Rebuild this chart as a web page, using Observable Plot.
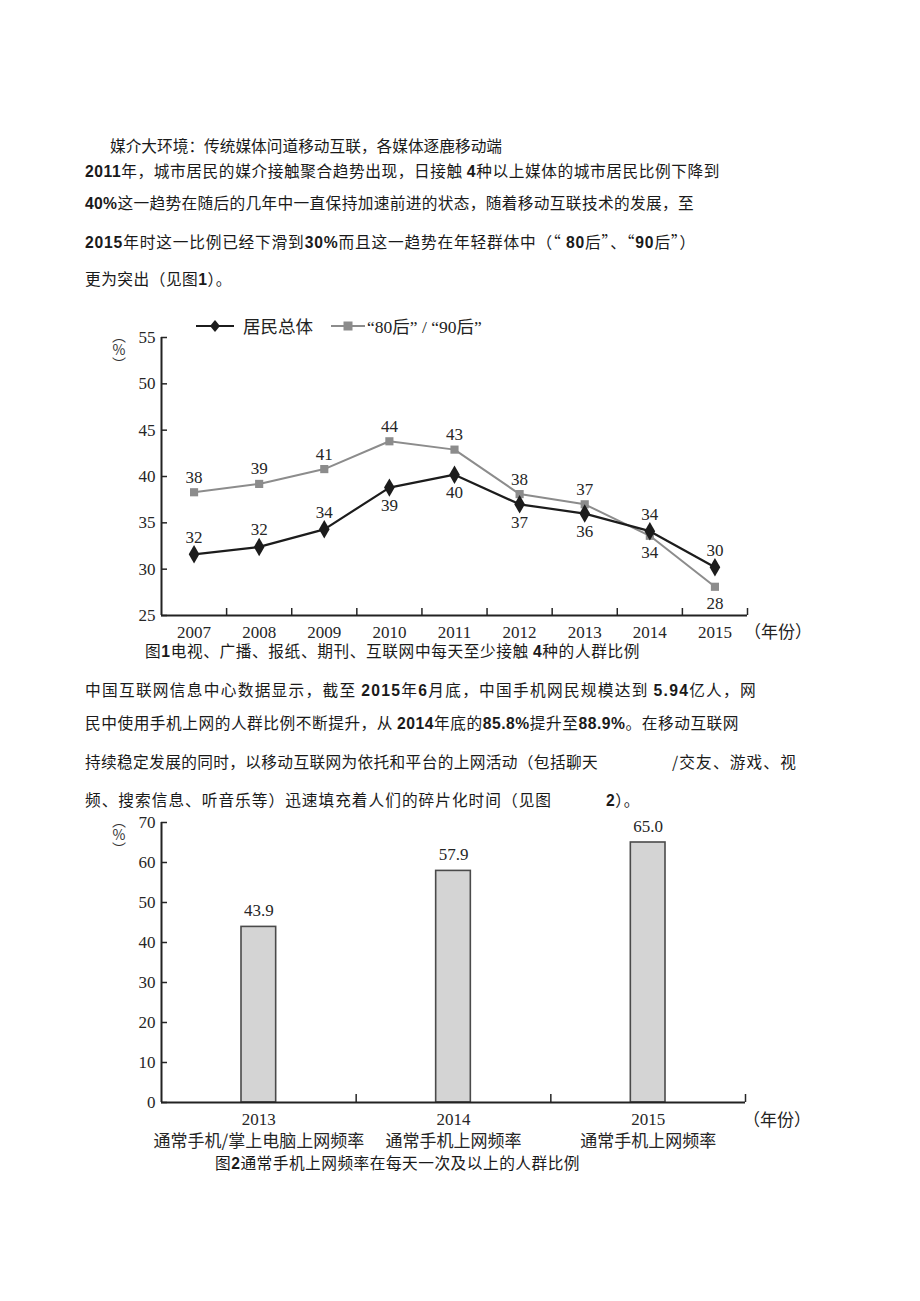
<!DOCTYPE html>
<html><head><meta charset="utf-8">
<script src="https://cdn.jsdelivr.net/npm/d3@7"></script>
<script src="https://cdn.jsdelivr.net/npm/@observablehq/plot@0.6"></script>
<style>
html,body{margin:0;padding:0;background:#fff;}
body{width:920px;height:1301px;position:relative;overflow:hidden;font-family:"Noto Sans CJK SC","Noto Sans",sans-serif;color:#1a1a1a;}
.t{position:absolute;font-size:15.7px;line-height:16px;white-space:pre;}
.t .a{font-family:"Liberation Sans Narrow","Liberation Sans",sans-serif;font-weight:bold;}
.q{font-feature-settings:"fwid" 1;}
.unit{position:absolute;font-size:17px;line-height:17px;white-space:pre;font-family:"Liberation Serif","Noto Sans CJK SC",serif;color:#222;}
.ylab{position:absolute;font-size:14px;line-height:20px;writing-mode:vertical-rl;text-orientation:upright;letter-spacing:0px;font-family:"Noto Sans CJK SC",serif;color:#333;}
.legend{position:absolute;display:flex;align-items:center;font-size:17.5px;font-family:"Liberation Serif","Noto Sans CJK SC",serif;color:#222;white-space:pre;}
.chart{position:absolute;}
</style></head><body>
<script>
// ---- Figure 1 data ----
const years1 = [2007, 2008, 2009, 2010, 2011, 2012, 2013, 2014, 2015];
const totalValues = [31.6, 32.4, 34.3, 38.8, 40.2, 37.0, 36.0, 34.1, 30.2];
const youngValues = [38.3, 39.2, 40.8, 43.8, 42.9, 38.1, 37.0, 33.6, 28.1];
const totalLabelSide = ["above","above","above","below","below","below","below","above","above"];
const youngLabelSide = ["above","above","above","above","above","above","above","below","below"];
const seriesNames = ["居民总体", "“80后” / “90后”"];
const yTicks1 = [25, 30, 35, 40, 45, 50, 55];

// ---- Figure 2 data ----
const years2 = [2013, 2014, 2015];
const freqValues = [43.9, 57.9, 65.0];
const freqLabels = ["通常手机/掌上电脑上网频率", "通常手机上网频率", "通常手机上网频率"];
const yTicks2 = [0, 10, 20, 30, 40, 50, 60, 70];

// ---- Text lines (x start, x end, y centre) ----
const textLines = [
  {x:110, x2:502, y:146, s:"媒介大环境：传统媒体问道移动互联，各媒体逐鹿移动端"},
  {x:85, x2:720, y:171, s:"2011年，城市居民的媒介接触聚合趋势出现，日接触 4种以上媒体的城市居民比例下降到"},
  {x:85, x2:694, y:203, s:"40%这一趋势在随后的几年中一直保持加速前进的状态，随着移动互联技术的发展，至"},
  {x:85, x2:696, y:242, s:"2015年时这一比例已经下滑到30%而且这一趋势在年轻群体中（“ 80后”、“90后”）"},
  {x:85, x2:232, y:279, s:"更为突出（见图1）。"},
  {x:145, x2:640, y:651, s:"图1电视、广播、报纸、期刊、互联网中每天至少接触 4种的人群比例"},
  {x:85, x2:757, y:690, s:"中国互联网信息中心数据显示，截至 2015年6月底，中国手机网民规模达到 5.94亿人，网"},
  {x:85, x2:739, y:723, s:"民中使用手机上网的人群比例不断提升，从 2014年底的85.8%提升至88.9%。在移动互联网"},
  {x:85, x2:598, y:762, s:"持续稳定发展的同时，以移动互联网为依托和平台的上网活动（包括聊天"},
  {x:672, x2:797, y:762, s:"/交友、游戏、视"},
  {x:85, x2:552, y:800, s:"频、搜索信息、听音乐等）迅速填充着人们的碎片化时间（见图"},
  {x:606, x2:640, y:800, s:"2）。"},
  {x:215, x2:580, y:1163, s:"图2通常手机上网频率在每天一次及以上的人群比例"}
];
function esc(s){return s.replace(/&/g,"&amp;").replace(/</g,"&lt;");}
function markup(s){
  return esc(s).replace(/[0-9.%]+/g, m => `<span class="a">${m}</span>`)
               .replace(/[“”]/g, m => `<span class="q">${m}</span>`);
}
for (const l of textLines) {
  const d = document.createElement("div");
  d.className = "t"; d.innerHTML = markup(l.s);
  d.style.left = l.x + "px"; d.style.top = (l.y - 8) + "px";
  document.body.appendChild(d);
  const w = d.getBoundingClientRect().width;
  const n = [...l.s].length;
  if (n > 1) d.style.letterSpacing = ((l.x2 - l.x - w) / n) + "px";
}

const font = "'Liberation Serif','Noto Sans CJK SC',serif";
const dark = "#1c1c1c", grey = "#8c8c8c", txt = "#262626";

// ---- Figure 1 ----
const total = years1.map((year, i) => ({year, value: totalValues[i], side: totalLabelSide[i]}));
const young = years1.map((year, i) => ({year, value: youngValues[i], side: youngLabelSide[i]}));
const bounds1 = years1.map(y => y + 0.5);
const fmt0 = d => d3.format(".0f")(d.value);
const chart1 = Plot.plot({
  width: 720, height: 360,
  marginLeft: 61, marginRight: 73, marginTop: 37, marginBottom: 45,
  style: {fontFamily: font, fontSize: "17px", color: txt, background: "transparent", overflow: "visible"},
  x: {domain: [years1[0] - 0.5, years1[years1.length - 1] + 0.5]},
  y: {domain: [yTicks1[0], yTicks1[yTicks1.length - 1]]},
  marks: [
    Plot.axisY({ticks: yTicks1, tickSize: 0, tickPadding: 6, label: null}),
    Plot.axisY({ticks: yTicks1, tickSize: -6, tickFormat: () => "", label: null, strokeWidth: 1.5}),
    Plot.axisX({ticks: years1, tickSize: 0, tickPadding: 10, tickFormat: d => String(d), label: null}),
    Plot.axisX({ticks: bounds1, tickSize: -7, tickFormat: () => "", label: null, strokeWidth: 1.5}),
    Plot.ruleX([years1[0] - 0.5], {stroke: "#222", strokeWidth: 2}),
    Plot.ruleY([yTicks1[0]], {stroke: "#222", strokeWidth: 2}),
    Plot.line(young, {x: "year", y: "value", stroke: grey, strokeWidth: 2}),
    Plot.dot(young, {x: "year", y: "value", symbol: "square", r: 4.6, fill: grey}),
    Plot.line(total, {x: "year", y: "value", stroke: dark, strokeWidth: 2.2}),
    Plot.dot(total, {x: "year", y: "value", symbol: "diamond", r: 5.6, fill: dark}),
    Plot.text(total.filter(d => d.side === "above"), {x: "year", y: "value", text: fmt0, dy: -17, fill: txt}),
    Plot.text(total.filter(d => d.side === "below"), {x: "year", y: "value", text: fmt0, dy: 18, fill: txt}),
    Plot.text(young.filter(d => d.side === "above"), {x: "year", y: "value", text: fmt0, dy: -15, fill: txt}),
    Plot.text(young.filter(d => d.side === "below"), {x: "year", y: "value", text: fmt0, dy: 17, fill: txt})
  ]
});
chart1.classList.add("chart");
chart1.style.left = "100px"; chart1.style.top = "300px";
document.body.appendChild(chart1);

// legend
const legend = document.createElement("div");
legend.className = "legend";
legend.style.left = "196px"; legend.style.top = "313px";
legend.innerHTML =
  `<svg width="38" height="14"><line x1="0" y1="7" x2="38" y2="7" stroke="${dark}" stroke-width="2.2"/><path d="M19,1L24,7L19,13L14,7Z" fill="${dark}"/></svg>` +
  `<span style="margin:0 18px 0 9px">${seriesNames[0]}</span>` +
  `<svg width="34" height="14"><line x1="0" y1="7" x2="34" y2="7" stroke="${grey}" stroke-width="2"/><rect x="12.5" y="2.5" width="9" height="9" fill="${grey}"/></svg>` +
  `<span style="margin-left:2px">${seriesNames[1].replace(/[“”]/g, m => `<span class="q">${m}</span>`)}</span>`;
document.body.appendChild(legend);

function addDiv(cls, html, x, y) {
  const d = document.createElement("div");
  d.className = cls; d.innerHTML = html;
  d.style.left = x + "px"; d.style.top = y + "px";
  document.body.appendChild(d);
  return d;
}
addDiv("ylab", "︵%︶", 109, 329);
addDiv("unit", "（年份）", 744, 624);

// ---- Figure 2 ----
const bars = years2.map((year, i) => ({year, value: freqValues[i], sub: freqLabels[i]}));
const bounds2 = years2.map(y => y + 0.5);
const chart2 = Plot.plot({
  width: 720, height: 342,
  marginLeft: 61, marginRight: 75, marginTop: 12, marginBottom: 50,
  style: {fontFamily: font, fontSize: "17px", color: txt, background: "transparent", overflow: "visible"},
  x: {domain: [years2[0] - 0.5, years2[years2.length - 1] + 0.5]},
  y: {domain: [yTicks2[0], yTicks2[yTicks2.length - 1]]},
  marks: [
    Plot.rectY(bars, {x1: d => d.year - 0.5, x2: d => d.year + 0.5, y: "value", insetLeft: 80, insetRight: 80, fill: "#d4d4d4", stroke: "#4a4a4a", strokeWidth: 1.6}),
    Plot.axisY({ticks: yTicks2, tickSize: 0, tickPadding: 6, label: null}),
    Plot.axisY({ticks: yTicks2, tickSize: -6, tickFormat: () => "", label: null, strokeWidth: 1.5}),
    Plot.axisX({ticks: years2, tickSize: 0, tickPadding: 10, tickFormat: d => String(d), label: null}),
    Plot.axisX({ticks: bounds2, tickSize: -8, tickFormat: () => "", label: null, strokeWidth: 1.5}),
    Plot.text(bars, {x: "year", y: yTicks2[0], text: "sub", dy: 39, fontSize: 17, fontFamily: "'Noto Sans CJK SC',sans-serif", fill: txt}),
    Plot.ruleX([years2[0] - 0.5], {stroke: "#222", strokeWidth: 2}),
    Plot.ruleY([yTicks2[0]], {stroke: "#222", strokeWidth: 2}),
    Plot.text(bars, {x: "year", y: "value", text: d => d3.format(".1f")(d.value), dy: -16, fill: txt})
  ]
});
chart2.classList.add("chart");
chart2.style.left = "100px"; chart2.style.top = "810px";
document.body.appendChild(chart2);
addDiv("ylab", "︵%︶", 109, 814);
addDiv("unit", "（年份）", 743, 1112);
</script>
</body></html>
